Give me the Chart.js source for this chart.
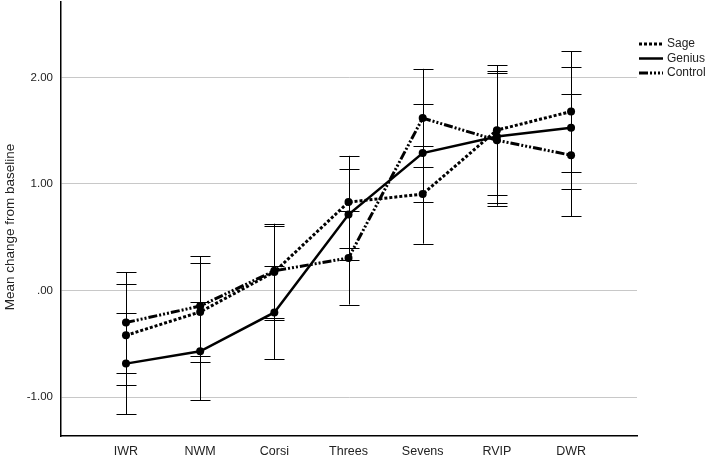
<!DOCTYPE html>
<html>
<head>
<meta charset="utf-8">
<script src="https://cdn.jsdelivr.net/npm/chart.js@4.4.0/dist/chart.umd.min.js"></script>
<style>
  html, body { margin: 0; padding: 0; background: #fff; }
  #wrap { width: 709px; height: 460px; position: relative; }
</style>
</head>
<body>
<div id="wrap"><canvas id="chart"></canvas></div>
<script>
// Data
const categories = ['IWR', 'NWM', 'Corsi', 'Threes', 'Sevens', 'RVIP', 'DWR'];
const yTicks = [-1, 0, 1, 2];

const sage = [-0.42, -0.20, 0.175, 0.83, 0.905, 1.505, 1.68];
const sageLow = [-0.889, -0.668, -0.278, 0.396, 0.44, 0.892, 1.108];
const sageHigh = [0.059, 0.259, 0.627, 1.264, 1.36, 2.116, 2.247];

const genius = [-0.685, -0.57, -0.205, 0.713, 1.29, 1.445, 1.527];
const geniusLow = [-1.158, -1.03, -0.646, 0.284, 0.83, 0.821, 0.952];
const geniusHigh = [-0.209, -0.109, 0.234, 1.142, 1.75, 2.063, 2.10];

const control = [-0.30, -0.145, 0.185, 0.306, 1.618, 1.41, 1.27];
const controlLow = [-0.777, -0.609, -0.256, -0.131, 1.155, 0.796, 0.696];
const controlHigh = [0.171, 0.321, 0.602, 0.743, 2.08, 2.038, 1.845];

const FONT = "'Liberation Sans', Arial, sans-serif";

function toPoints(values) {
    return values.map((v, i) => ({ x: i, y: v }));
}

function makeSeries(label, values, low, high, dash, width) {
    return {
        label: label,
        data: toPoints(values),
        low: low,
        high: high,
        borderColor: '#000',
        backgroundColor: '#000',
        borderWidth: width,
        borderDash: dash,
        pointRadius: 4,
        pointBackgroundColor: '#000',
        pointBorderWidth: 0,
        tension: 0,
        fill: false
    };
}

// Error bars drawn under the lines
const errorBars = {
    id: 'errorBars',
    beforeDatasetsDraw(chart) {
        const { ctx, scales: { x, y } } = chart;
        ctx.save();
        ctx.strokeStyle = '#000';
        ctx.setLineDash([]);
        chart.data.datasets.forEach(ds => {
            ds.low.forEach((lo, i) => {
                const px = Math.round(x.getPixelForValue(i)) + 0.5;
                const top = y.getPixelForValue(ds.high[i]);
                const bot = y.getPixelForValue(lo);
                ctx.lineWidth = 1;
                ctx.beginPath();
                ctx.moveTo(px, top);
                ctx.lineTo(px, bot);
                ctx.stroke();
                [top, bot].forEach(py => {
                    ctx.beginPath();
                    ctx.moveTo(px - 10, Math.round(py) + 0.5);
                    ctx.lineTo(px + 10, Math.round(py) + 0.5);
                    ctx.stroke();
                });
            });
        });
        ctx.restore();
    }
};

// Axis title + legend on the right
const extras = {
    id: 'extras',
    afterDraw(chart) {
        const ctx = chart.ctx;
        ctx.save();
        ctx.fillStyle = '#222';
        ctx.font = '13.5px ' + FONT;
        ctx.translate(10, 227);
        ctx.rotate(-Math.PI / 2);
        ctx.textAlign = 'center';
        ctx.textBaseline = 'middle';
        ctx.fillText('Mean change from baseline', 0, 0);
        ctx.restore();

        ctx.save();
        ctx.font = '12px ' + FONT;
        ctx.textBaseline = 'middle';
        ctx.fillStyle = '#222';
        chart.data.datasets.forEach((ds, i) => {
            const ly = 44 + i * 14.5;
            ctx.strokeStyle = '#000';
            ctx.lineWidth = ds.borderWidth;
            ctx.setLineDash(ds.borderDash);
            ctx.beginPath();
            ctx.moveTo(639, ly);
            ctx.lineTo(663, ly);
            ctx.stroke();
            ctx.fillText(ds.label, 667, ly);
        });
        ctx.restore();
    }
};

new Chart(document.getElementById('chart'), {
    type: 'line',
    data: {
        datasets: [
            makeSeries('Sage', sage, sageLow, sageHigh, [3, 2], 3),
            makeSeries('Genius', genius, geniusLow, geniusHigh, [], 2.5),
            makeSeries('Control', control, controlLow, controlHigh, [9, 2, 2, 2, 2, 2, 2, 2], 3)
        ]
    },
    options: {
        responsive: true,
        maintainAspectRatio: false,
        animation: false,
        layout: { autoPadding: false, padding: { top: 2, right: 72, left: 0, bottom: 0 } },
        plugins: {
            legend: { display: false },
            tooltip: { enabled: false }
        },
        scales: {
            x: {
                type: 'linear',
                min: -0.876,
                max: 6.889,
                afterBuildTicks: scale => {
                    scale.ticks = categories.map((_, i) => ({ value: i }));
                },
                afterFit: scale => {
                    scale.height = 24;
                    scale.paddingLeft = 0;
                    scale.paddingRight = 0;
                },
                grid: { display: false, drawTicks: false },
                border: { display: true, color: '#000', width: 1.5 },
                ticks: {
                    padding: 8,
                    color: '#222',
                    font: { family: FONT, size: 12.5 },
                    callback: v => categories[v] || ''
                }
            },
            y: {
                min: -1.364,
                max: 2.707,
                afterBuildTicks: scale => {
                    scale.ticks = yTicks.map(v => ({ value: v }));
                },
                afterFit: scale => {
                    scale.width = 61;
                    scale.paddingTop = 0;
                    scale.paddingBottom = 0;
                },
                grid: { color: '#c8c8c8', lineWidth: 1, drawTicks: false },
                border: { display: true, color: '#000', width: 1.5 },
                ticks: {
                    padding: 8,
                    color: '#222',
                    font: { family: FONT, size: 11.5 },
                    callback: v => v === 0 ? '.00' : v.toFixed(2)
                }
            }
        }
    },
    plugins: [errorBars, extras]
});
</script>
</body>
</html>
